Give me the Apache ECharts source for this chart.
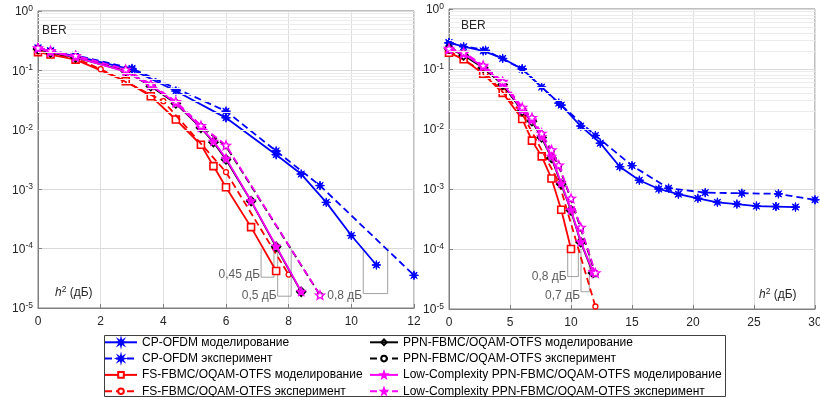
<!DOCTYPE html>
<html>
<head>
<meta charset="utf-8">
<script src="https://cdn.jsdelivr.net/npm/echarts@6/dist/echarts.min.js"></script>
<style>
  html, body {margin: 0; padding: 0; background: #fff;}
  #chart {width: 820px; height: 397px;}
</style>
</head>
<body>
<div id="chart"></div>
<script>
const seriesNames = [
  'CP-OFDM моделирование',
  'CP-OFDM эксперимент',
  'FS-FBMC/OQAM-OTFS моделирование',
  'FS-FBMC/OQAM-OTFS эксперимент',
  'PPN-FBMC/OQAM-OTFS моделирование',
  'PPN-FBMC/OQAM-OTFS эксперимент',
  'Low-Complexity PPN-FBMC/OQAM-OTFS моделирование',
  'Low-Complexity PPN-FBMC/OQAM-OTFS эксперимент'
];

// left panel, h^2 0..12 dB  -> [h2, BER]
const leftCpSim = [[0, 0.23], [0.4, 0.21], [1.2, 0.174], [3, 0.103], [4.4, 0.045], [6, 0.0159], [7.6, 0.0038], [8.4, 0.0018], [9.2, 6.0e-4], [10, 1.66e-4], [10.8, 5.3e-5]];
const leftCpExp = [[0, 0.24], [0.4, 0.215], [1.2, 0.18], [3, 0.108], [6, 0.0206], [7.6, 0.0044], [9, 1.15e-3], [12, 3.55e-5]];
const leftFsSim = [[0, 0.203], [0.4, 0.185], [1.2, 0.152], [2.8, 0.066], [3.6, 0.0368], [4.4, 0.0149], [5.2, 0.0056], [5.6, 0.00245], [6, 0.00108], [6.8, 2.3e-4], [7.6, 4.2e-5]];
const leftFsExp = [[0, 0.21], [0.4, 0.19], [1.2, 0.16], [2, 0.105], [4, 0.0303], [6, 0.00194], [8, 3.65e-5]];
const leftPpnSim = [[0, 0.23], [0.4, 0.2], [1.2, 0.165], [2.8, 0.097], [3.6, 0.054], [4.4, 0.0277], [5.2, 0.0108], [5.6, 0.0062], [6, 0.00316], [6.8, 6.3e-4], [7.6, 1.07e-4], [8.4, 1.87e-5]];
const leftPpnExp = [[0, 0.235], [0.4, 0.21], [1.2, 0.172], [2.8, 0.1], [3.6, 0.057], [4.4, 0.029], [5.2, 0.0115], [6, 0.0053], [9, 1.65e-5]];
const leftLcSim = [[0, 0.235], [0.4, 0.205], [1.2, 0.168], [2.8, 0.095], [3.6, 0.056], [4.4, 0.0285], [5.2, 0.011], [5.6, 0.0064], [6, 0.0033], [6.8, 6.4e-4], [7.6, 1.1e-4], [8.4, 1.9e-5]];
const leftLcExp = [[0, 0.24], [0.4, 0.215], [1.2, 0.178], [2.8, 0.104], [3.6, 0.059], [4.4, 0.03], [5.2, 0.0118], [6, 0.0055], [9, 1.65e-5]];

// right panel, h^2 0..30 dB
const rightCpSim = [[0, 0.275], [1.2, 0.235], [2.8, 0.2], [4.4, 0.15], [6, 0.1], [7.6, 0.05], [9.2, 0.025], [10.8, 0.0112], [12.4, 0.0058], [14, 0.00235], [15.6, 0.0014], [17.2, 1e-3], [18.8, 8.2e-4], [20.4, 7e-4], [22, 6e-4], [23.6, 5.6e-4], [25.2, 5.2e-4], [26.8, 5.1e-4], [28.4, 5.0e-4]];
const rightCpExp = [[0, 0.27], [3, 0.205], [6, 0.1], [9, 0.027], [12, 0.0078], [15, 0.00245], [18, 1.03e-3], [21, 8.7e-4], [24, 8.5e-4], [27, 8.3e-4], [30, 6.6e-4]];
const rightFsSim = [[0, 0.187], [1.2, 0.145], [2.8, 0.083], [4.4, 0.04], [6, 0.0147], [6.8, 0.0064], [7.6, 0.0035], [8.4, 0.0015], [9.2, 4.5e-4], [10, 1e-4]];
const rightFsExp = [[0, 0.2], [3, 0.085], [6, 0.018], [9, 1.3e-3], [12, 1.1e-5]];
const rightPpnSim = [[0, 0.22], [1.2, 0.17], [2.8, 0.105], [4.4, 0.055], [6, 0.02], [6.8, 0.0135], [7.6, 0.0072], [8.4, 0.0033], [9.2, 0.0012], [10, 4.4e-4], [10.8, 1.3e-4], [11.8, 4.0e-5]];
const rightPpnExp = [[0, 0.225], [1.2, 0.185], [2.8, 0.112], [4.4, 0.06], [6, 0.022], [6.8, 0.015], [7.6, 0.0082], [8.4, 0.0043], [9, 0.0024], [10, 6.8e-4], [10.8, 2.2e-4], [12, 3.8e-5]];
const rightLcSim = [[0, 0.213], [1.2, 0.18], [2.8, 0.109], [4.4, 0.058], [6, 0.0208], [6.8, 0.0141], [7.6, 0.0075], [8.4, 0.0035], [9.2, 0.00125], [10, 4.5e-4], [10.8, 1.33e-4], [11.8, 4.2e-5]];
const rightLcExp = [[0, 0.22], [1.2, 0.19], [2.8, 0.115], [4.4, 0.062], [6, 0.023], [6.8, 0.0155], [7.6, 0.0085], [8.4, 0.0045], [9, 0.0025], [10, 7e-4], [10.8, 2.3e-4], [12, 4e-5]];

// dB-gap brackets: [x1, x2, yTop, yBottom], label, label y
const leftBrackets = [
  [7.12, 7.53, 1e-4, 3.3e-5, '0,45 дБ', 3.6e-5],
  [7.65, 8.08, 1e-4, 1.58e-5, '0,5 дБ', 1.64e-5],
  [10.38, 11.16, 1e-4, 1.75e-5, '0,8 дБ', 1.64e-5]
];
const rightBrackets = [
  [9.73, 10.6, 1e-4, 3.47e-5, '0,8 дБ', 3.45e-5],
  [10.82, 11.5, 1e-4, 1.94e-5, '0,7 дБ', 1.66e-5]
];

const xTicksLeft = {min: 0, max: 12, interval: 2};
const xTicksRight = {min: 0, max: 30, interval: 5};

const FONT = '"Liberation Sans", Arial, sans-serif';
const TXT = '#262626';

function starPath(n, inner) {
  let d = '';
  for (let i = 0; i < 2 * n; i++) {
    const a = -Math.PI / 2 + i * Math.PI / n;
    const r = i % 2 ? inner : 1;
    d += (i ? 'L' : 'M') + (r * Math.cos(a)).toFixed(3) + ',' + (r * Math.sin(a)).toFixed(3);
  }
  return 'path://' + d + 'Z';
}
const ASTERISK = starPath(8, 0.38);
const PENTAGRAM = starPath(5, 0.42);

const styles = [
  {color: '#0000ff', dash: 'solid', symbol: ASTERISK, size: 9, fill: '#0000ff', bw: 1},
  {color: '#0000ff', dash: [7, 4], symbol: ASTERISK, size: 9, fill: '#0000ff', bw: 1},
  {color: '#ff0000', dash: 'solid', symbol: 'rect', size: 7, fill: '#fff', bw: 1.6},
  {color: '#ff0000', dash: [7, 4], symbol: 'circle', size: 5, fill: '#fff', bw: 1.3},
  {color: '#000000', dash: 'solid', symbol: 'diamond', size: 9, fill: 'rgba(255,255,255,0)', bw: 1.5},
  {color: '#000000', dash: [7, 4], symbol: 'circle', size: 5, fill: '#fff', bw: 1.3},
  {color: '#ff00ff', dash: 'solid', symbol: PENTAGRAM, size: 10, fill: '#ff00ff', bw: 0.8},
  {color: '#ff00ff', dash: [7, 4], symbol: PENTAGRAM, size: 9, fill: '#fff', bw: 1.3}
];

function curve(i, data, g) {
  const s = styles[i];
  return {
    name: seriesNames[i],
    type: 'line',
    xAxisIndex: g, yAxisIndex: g,
    data: data,
    symbol: s.symbol,
    symbolSize: s.size,
    symbolKeepAspect: true,
    showAllSymbol: true,
    lineStyle: {color: s.color, width: 1.8, type: s.dash},
    itemStyle: {color: s.fill, borderColor: s.color, borderWidth: s.bw},
    emphasis: {disabled: true},
    z: 3 + i * 0.01
  };
}

function brackets(list, g) {
  const out = [];
  list.forEach(b => {
    out.push({
      type: 'line', xAxisIndex: g, yAxisIndex: g, silent: true, symbol: 'none',
      data: [[b[0], b[2]], [b[0], b[3]], [b[1], b[3]], [b[1], b[2]]],
      lineStyle: {color: '#a0a0a0', width: 1}, z: 2
    });
  });
  out.push({
    type: 'scatter', xAxisIndex: g, yAxisIndex: g, silent: true, symbolSize: 0,
    data: list.map(b => ({value: [b[0], b[5]], name: b[4]})),
    label: {show: true, position: 'left', distance: 1, formatter: '{b}', fontFamily: FONT, fontSize: 12, color: '#333'},
    z: 4
  });
  return out;
}

// minor log grid lines (2..9 x 10^k)
const minorY = [];
for (let e = -5; e < 0; e++) for (let m = 2; m <= 9; m++) minorY.push(m * Math.pow(10, e));

function minorGrid(g) {
  return {
    type: 'line', xAxisIndex: g, yAxisIndex: g, data: [], silent: true, z: 1,
    markLine: {
      silent: true, symbol: 'none', animation: false, label: {show: false},
      lineStyle: {color: '#ececec', type: 'solid', width: 1},
      data: minorY.map(v => ({yAxis: v}))
    }
  };
}

function xAxis(g, t) {
  return {
    gridIndex: g, type: 'value', min: t.min, max: t.max, interval: t.interval,
    axisLine: {show: true, lineStyle: {color: '#808080'}},
    axisTick: {show: true, inside: true, length: 4, lineStyle: {color: '#808080'}},
    splitLine: {show: true, lineStyle: {color: '#dedede'}},
    axisLabel: {fontFamily: FONT, fontSize: 12, color: TXT, margin: 8}
  };
}
function yAxis(g) {
  return {
    gridIndex: g, type: 'log', logBase: 10, min: 1e-5, max: 1,
    axisLine: {show: true, lineStyle: {color: '#808080'}},
    axisTick: {show: true, inside: true, length: 4, lineStyle: {color: '#808080'}},
    splitLine: {show: true, lineStyle: {color: '#dadada'}},
    axisLabel: {
      margin: 5,
      formatter: v => '{a|10}{b|' + Math.round(Math.log10(v)) + '}',
      rich: {
        a: {fontFamily: FONT, fontSize: 12, color: TXT, verticalAlign: 'bottom'},
        b: {fontFamily: FONT, fontSize: 8.5, color: TXT, verticalAlign: 'bottom', padding: [0, 0, 5, 0]}
      }
    }
  };
}

const hLabel = {
  text: '{i|h}{s|2}{t| (дБ)}',
  rich: {
    i: {fontFamily: FONT, fontSize: 12, fontStyle: 'italic', fill: TXT, verticalAlign: 'bottom'},
    s: {fontFamily: FONT, fontSize: 8.5, fill: TXT, verticalAlign: 'bottom', padding: [0, 0, 5, 0]},
    t: {fontFamily: FONT, fontSize: 12, fill: TXT, verticalAlign: 'bottom'}
  }
};

const legendCommon = {
  orient: 'vertical', top: 335, height: 66,
  itemHeight: 7, itemGap: 4.3, padding: [1.3, 0, 0, 1],
  selectedMode: false,
  textStyle: {fontFamily: FONT, fontSize: 12, color: '#000'}
};

const chart = echarts.init(document.getElementById('chart'), null, {renderer: 'canvas'});
chart.setOption({
  animation: false,
  backgroundColor: '#fff',
  grid: [
    {left: 38, top: 11, width: 376, height: 297, show: true, borderColor: '#808080', borderWidth: 1, outerBoundsMode: 'none'},
    {left: 449, top: 9, width: 366, height: 300, show: true, borderColor: '#808080', borderWidth: 1, outerBoundsMode: 'none'}
  ],
  xAxis: [xAxis(0, xTicksLeft), xAxis(1, xTicksRight)],
  yAxis: [yAxis(0), yAxis(1)],
  legend: [
    Object.assign({}, legendCommon, {left: 103, itemWidth: 32, data: seriesNames.slice(0, 4)}),
    Object.assign({}, legendCommon, {left: 368, itemWidth: 28, data: seriesNames.slice(4)})
  ],
  graphic: [
    {type: 'rect', silent: true, z: 0, shape: {x: 104.5, y: 335.5, width: 621, height: 61}, style: {fill: 'none', stroke: '#404040', lineWidth: 1}},
    {type: 'text', silent: true, z: 10, left: 42, top: 25, style: {text: 'BER', font: '12px ' + FONT, fill: TXT, backgroundColor: '#fff'}},
    {type: 'text', silent: true, z: 10, left: 461, top: 20, style: {text: 'BER', font: '12px ' + FONT, fill: TXT, backgroundColor: '#fff'}},
    {type: 'text', silent: true, z: 10, left: 55, top: 285, style: hLabel},
    {type: 'text', silent: true, z: 10, left: 759, top: 287, style: hLabel}
  ],
  series: [
    minorGrid(0), minorGrid(1),
    curve(0, leftCpSim, 0), curve(1, leftCpExp, 0),
    curve(2, leftFsSim, 0), curve(3, leftFsExp, 0),
    curve(4, leftPpnSim, 0), curve(5, leftPpnExp, 0),
    curve(6, leftLcSim, 0), curve(7, leftLcExp, 0),
    curve(0, rightCpSim, 1), curve(1, rightCpExp, 1),
    curve(2, rightFsSim, 1), curve(3, rightFsExp, 1),
    curve(4, rightPpnSim, 1), curve(5, rightPpnExp, 1),
    curve(6, rightLcSim, 1), curve(7, rightLcExp, 1)
  ].concat(brackets(leftBrackets, 0), brackets(rightBrackets, 1))
});
</script>
</body>
</html>
